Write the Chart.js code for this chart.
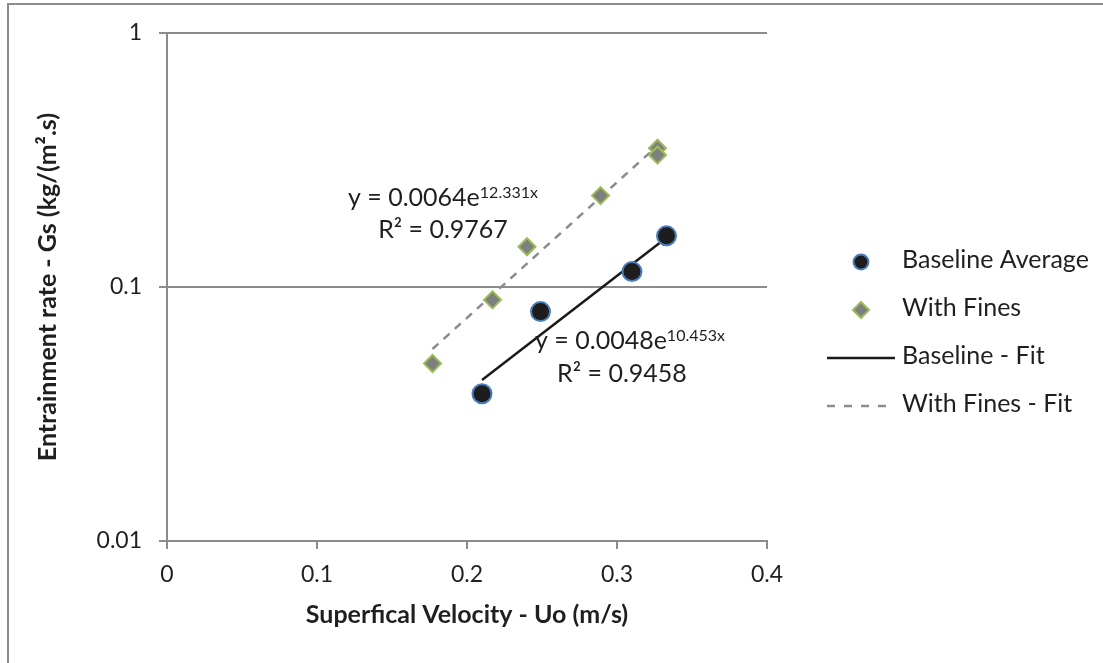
<!DOCTYPE html>
<html><head><meta charset="utf-8">
<script src="https://cdn.jsdelivr.net/npm/chart.js@4/dist/chart.umd.min.js"></script>
<style>html,body{margin:0;padding:0;background:#fff;}canvas{display:block;}</style>
</head><body>
<canvas id="c" width="1103" height="663"></canvas>
<script>
// ---- data ----
const xTicks = [0, 0.1, 0.2, 0.3, 0.4];
const xTickLabels = ['0', '0.1', '0.2', '0.3', '0.4'];
const yTicks = [0.01, 0.1, 1];
const yTickLabels = ['0.01', '0.1', '1'];

const seriesNames = ['Baseline Average', 'With Fines', 'Baseline - Fit', 'With Fines - Fit'];

const baselineVelocity = [0.210, 0.249, 0.310, 0.333];
const baselineGs = [0.038, 0.080, 0.115, 0.159];

const finesVelocity = [0.177, 0.217, 0.240, 0.289, 0.327, 0.327];
const finesGs = [0.050, 0.089, 0.144, 0.229, 0.352, 0.331];

const baselineFitVelocity = [0.210, 0.334];
const baselineFitGs = [0.043, 0.158];
const finesFitVelocity = [0.177, 0.327];
const finesFitGs = [0.057, 0.360];

const xTitle = 'Superfical Velocity - Uo (m/s)';
const yTitle = 'Entrainment rate - Gs (kg/(m².s)';

const fitLabels = [
  {eq: 'y = 0.0064e', exp: '12.331x', r2: 'R² = 0.9767'},
  {eq: 'y = 0.0048e', exp: '10.453x', r2: 'R² = 0.9458'}
];

const toPts = (xs, ys) => xs.map((x, i) => ({x: x, y: ys[i]}));

// ---- styles ----
const FONT = 'Lato';
const FS_TICK = 23;
const FS = 25;
const TXT = '#1f1f1f';
const GRID = '#8c8c8c';

const borderPlugin = {
  id: 'outerBorder',
  beforeDraw(chart) {
    const ctx = chart.ctx;
    ctx.save();
    ctx.fillStyle = '#fff';
    ctx.fillRect(0, 0, chart.width, chart.height);
    ctx.strokeStyle = '#8c8c8c';
    ctx.lineWidth = 2;
    ctx.beginPath();
    ctx.moveTo(8, chart.height);
    ctx.lineTo(8, 4);
    ctx.lineTo(chart.width, 4);
    ctx.stroke();
    ctx.restore();
  }
};

const annotationAnchors = [
  {cx1: 0.184, cx2: 0.184, b1: 0.2084, b2: 0.156},
  {cx1: 0.3087, cx2: 0.3033, b1: 0.0570, b2: 0.0423}
];

const fitLabelPlugin = {
  id: 'fitLabels',
  afterDatasetsDraw(chart) {
    const ctx = chart.ctx, xs = chart.scales.x, ys = chart.scales.y;
    ctx.save();
    ctx.fillStyle = TXT;
    ctx.textBaseline = 'alphabetic';
    ctx.textAlign = 'left';
    fitLabels.forEach((f, i) => {
      const a = annotationAnchors[i];
      const mainFont = FS + 'px ' + FONT;
      const supFont = '16px ' + FONT;
      ctx.font = mainFont;
      const w1 = ctx.measureText(f.eq).width;
      ctx.font = supFont;
      const w2 = ctx.measureText(f.exp).width;
      const cx1 = xs.getPixelForValue(a.cx1);
      const by1 = ys.getPixelForValue(a.b1);
      const left = cx1 - (w1 + w2) / 2;
      ctx.font = mainFont;
      ctx.fillText(f.eq, left, by1);
      ctx.font = supFont;
      ctx.fillText(f.exp, left + w1, by1 - 8);
      ctx.font = mainFont;
      ctx.textAlign = 'center';
      ctx.fillText(f.r2, xs.getPixelForValue(a.cx2), ys.getPixelForValue(a.b2));
      ctx.textAlign = 'left';
    });
    ctx.restore();
  }
};

const legendPlugin = {
  id: 'sideLegend',
  afterDraw(chart) {
    const ctx = chart.ctx;
    const ca = chart.chartArea;
    const mx = ca.right + 94, tx = ca.right + 135;
    const rows = [268, 316, 364, 412];
    ctx.save();
    ctx.beginPath();
    ctx.arc(mx, rows[0] - 6, 7.5, 0, Math.PI * 2);
    ctx.fillStyle = '#1e1c1d';
    ctx.fill();
    ctx.lineWidth = 2;
    ctx.strokeStyle = '#4a7ebb';
    ctx.stroke();
    const dy = rows[1] - 6, r = 8;
    ctx.beginPath();
    ctx.moveTo(mx - r, dy); ctx.lineTo(mx, dy - r); ctx.lineTo(mx + r, dy); ctx.lineTo(mx, dy + r);
    ctx.closePath();
    ctx.fillStyle = '#7f7f7f';
    ctx.fill();
    ctx.strokeStyle = '#9bbb59';
    ctx.lineWidth = 2;
    ctx.stroke();
    ctx.beginPath();
    ctx.moveTo(ca.right + 60, rows[2] - 6); ctx.lineTo(ca.right + 128, rows[2] - 6);
    ctx.strokeStyle = '#1a1a1a'; ctx.lineWidth = 2.5; ctx.stroke();
    ctx.beginPath();
    ctx.setLineDash([8, 9]);
    ctx.moveTo(ca.right + 60, rows[3] - 6); ctx.lineTo(ca.right + 122, rows[3] - 6);
    ctx.strokeStyle = '#8c8c8c'; ctx.lineWidth = 2.5; ctx.stroke();
    ctx.setLineDash([]);
    ctx.fillStyle = TXT;
    ctx.font = FS + 'px ' + FONT;
    ctx.textBaseline = 'alphabetic';
    ctx.textAlign = 'left';
    seriesNames.forEach((n, i) => ctx.fillText(n, tx, rows[i]));
    ctx.restore();
  }
};

new Chart(document.getElementById('c'), {
  type: 'scatter',
  data: {
    datasets: [
      {
        label: seriesNames[0],
        data: toPts(baselineVelocity, baselineGs),
        pointStyle: 'circle', pointRadius: 9.5, pointHoverRadius: 9.5,
        backgroundColor: '#1e1c1d', borderColor: '#4a7ebb', borderWidth: 2
      },
      {
        label: seriesNames[1],
        data: toPts(finesVelocity, finesGs),
        pointStyle: 'rectRot', pointRadius: 8.5, pointHoverRadius: 8.5,
        backgroundColor: '#7f7f7f', borderColor: '#9bbb59', borderWidth: 2
      },
      {
        label: seriesNames[2],
        data: toPts(baselineFitVelocity, baselineFitGs),
        showLine: true, pointRadius: 0, borderColor: '#1a1a1a', borderWidth: 2.5, fill: false
      },
      {
        label: seriesNames[3],
        data: toPts(finesFitVelocity, finesFitGs),
        showLine: true, pointRadius: 0, borderColor: '#8c8c8c', borderWidth: 2.5,
        borderDash: [8, 7], fill: false
      }
    ]
  },
  options: {
    responsive: false,
    animation: false,
    devicePixelRatio: 1,
    layout: {padding: {left: 0, top: 33, right: 336, bottom: 0}},
    plugins: {legend: {display: false}, tooltip: {enabled: false}},
    font: {family: FONT},
    scales: {
      x: {
        type: 'linear', min: 0, max: 0.4,
        afterBuildTicks: s => { s.ticks = xTicks.map(v => ({value: v})); },
        afterFit: s => { s.height = 122; },
        ticks: {
          callback: (v, i) => xTickLabels[i],
          font: {family: FONT, size: FS_TICK}, color: TXT, padding: 12, maxRotation: 0
        },
        grid: {display: true, drawOnChartArea: false, drawTicks: true, tickLength: 8, color: GRID, lineWidth: 2},
        border: {display: true, color: GRID, width: 2},
        title: {
          display: true, text: xTitle, color: TXT,
          font: {family: FONT, size: FS, weight: 'bold'},
          padding: {top: 0, bottom: 33}
        }
      },
      y: {
        type: 'logarithmic', min: 0.01, max: 1,
        afterBuildTicks: s => { s.ticks = yTicks.map(v => ({value: v})); },
        afterFit: s => { s.width = 167; },
        ticks: {
          callback: (v, i) => yTickLabels[i],
          font: {family: FONT, size: FS_TICK}, color: TXT, padding: 17
        },
        grid: {display: true, drawTicks: true, tickLength: 8, color: GRID, lineWidth: 2},
        border: {display: true, color: GRID, width: 2},
        title: {
          display: true, text: yTitle, color: TXT,
          font: {family: FONT, size: FS, weight: 'bold'},
          padding: {top: 33, bottom: 0}
        }
      }
    }
  },
  plugins: [borderPlugin, fitLabelPlugin, legendPlugin]
});
</script>
</body></html>
